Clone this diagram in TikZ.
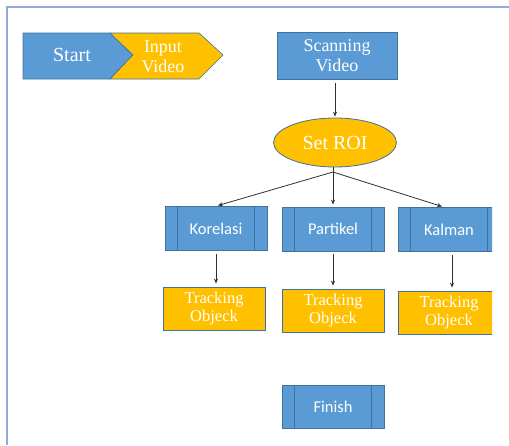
\documentclass[tikz,border=0pt]{standalone}
\usepackage{fontspec}
\setmainfont{Liberation Serif}
\newfontfamily\calib{Carlito}
\usetikzlibrary{shapes.geometric,arrows.meta,calc}
\definecolor{bfill}{HTML}{5B9BD5}
\definecolor{bline}{HTML}{41719C}
\definecolor{yfill}{HTML}{FFC000}
\definecolor{framec}{HTML}{8FAADC}
\definecolor{arrc}{HTML}{303030}
\begin{document}
\begin{tikzpicture}[x=1pt,y=-1pt,
  proc/.style={draw=bline, fill=bfill, line width=0.8pt, minimum width=102pt, minimum height=44pt, inner sep=0pt, text=white, font=\calib\fontsize{16.5}{18}\selectfont},
  trk/.style={draw=bline, fill=yfill, line width=0.8pt, minimum width=102pt, minimum height=43pt, inner sep=0pt, text=white, align=center, font=\rmfamily\fontsize{16.5}{18}\selectfont},
  bluebox/.style={draw=bline, fill=bfill, line width=0.8pt, minimum width=120pt, minimum height=47pt, inner sep=0pt, text=white, align=center, font=\rmfamily\fontsize{18}{20}\selectfont},
  roistyle/.style={ellipse, draw=bline, fill=yfill, line width=0.8pt, minimum width=123pt, minimum height=49pt, inner sep=0pt, text=white, font=\rmfamily\fontsize{20}{22}\selectfont},
  arrow/.style={draw=arrc, line width=0.8pt, -{Stealth[length=5pt,width=4pt]}},
  plain/.style={draw=arrc, line width=0.8pt}
]
\useasboundingbox (0,0) rectangle (509,445);
\draw[framec, line width=2pt] (7,445) -- (7,7) -- (509,7);

% Start and Input Video chevrons
\filldraw[fill=bfill, draw=bline, line width=0.8pt] (23,33) -- (110,33) -- (133,55) -- (110,79) -- (23,79) -- cycle;
\filldraw[fill=yfill, draw=bline, line width=0.6pt] (110,33) -- (199,33) -- (223,55) -- (199,79) -- (110,79) -- (133,55) -- cycle;
\node[text=white, font=\rmfamily\fontsize{20}{22}\selectfont] (start) at (72,55) {Start};
\node[text=white, align=center, font=\rmfamily\fontsize{18}{20}\selectfont] (input) at (163,57) {Input\\Video};

\begin{scope}
\clip (0,0) rectangle (492,445);
\node[bluebox] (scan) at (337,55.5) {Scanning\\Video};
\node[roistyle] (roi) at (335,142.5) {Set ROI};
\node[proc] (kor) at (216,228.5) {Korelasi};
\node[proc] (par) at (333,229) {Partikel};
\node[proc] (kal) at (449,229.5) {Kalman};
\node[trk] (trk1) at (214,308.5) {Tracking\\Objeck};
\node[trk] (trk2) at (333,310.5) {Tracking\\Objeck};
\node[trk] (trk3) at (449,312.5) {Tracking\\Objeck};
\node[proc, minimum height=43pt] (fin) at (333,406.5) {Finish};
\foreach \n in {kor,par,kal,fin}{
  \draw[bline, line width=0.8pt] ($(\n.north west)+(13,0)$) -- ($(\n.south west)+(13,0)$);
  \draw[bline, line width=0.8pt] ($(\n.north east)+(-13,0)$) -- ($(\n.south east)+(-13,0)$);
}
\end{scope}

% connectors
\draw[arrow, shorten <=4pt, shorten >=1pt] (roi.north |- scan.south) -- (roi.north);
\coordinate (br) at (333,172);
\draw[plain] (br |- roi.south) -- (br);
\draw[arrow, shorten >=2pt] (br) -- (kor.north);
\draw[arrow, shorten >=2pt] (br) -- ($(kal.north)+(-5,0)$);
\draw[arrow, shorten >=2pt] (br) -- (par.north);
\coordinate (kalout) at ($(kal.south)+(3,0)$);
\draw[arrow, shorten <=3pt, shorten >=3pt] (kor.south) -- (kor.south |- trk1.north);
\draw[arrow, shorten <=3pt, shorten >=3pt] (par.south) -- (par.south |- trk2.north);
\draw[arrow, shorten <=3pt, shorten >=3pt] (kalout) -- (kalout |- trk3.north);
\end{tikzpicture}
\end{document}
